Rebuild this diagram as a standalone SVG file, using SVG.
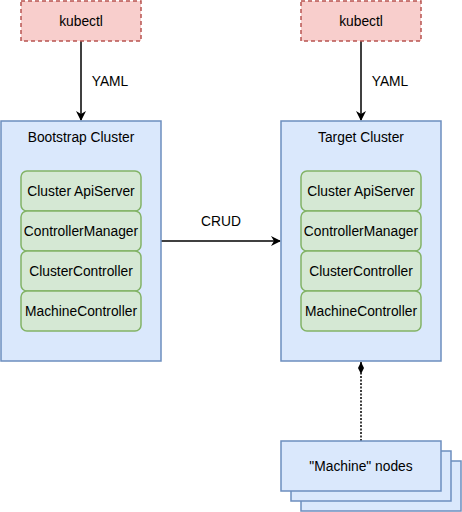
<svg xmlns="http://www.w3.org/2000/svg" width="462" height="512" viewBox="0 0 462 512">
<defs>
<style>
text{font-family:"Liberation Sans",Arial,sans-serif;font-size:13.8px;fill:#000;text-anchor:middle}
.kube{fill:#f8cecc;stroke:#b85450;stroke-width:1.5;stroke-dasharray:4 3}
.cluster{fill:#dae8fc;stroke:#6c8ebf;stroke-width:1.5}
.comp{fill:#d5e8d4;stroke:#82b366;stroke-width:1.5}
.line{stroke:#000;stroke-width:1.5;fill:none}
</style>
<marker id="arr" viewBox="0 0 10 10" refX="9" refY="5" markerWidth="10" markerHeight="10" markerUnits="userSpaceOnUse" orient="auto">
<path d="M0,0 L10,5 L0,10 L3,5 Z" fill="#000"/>
</marker>
<marker id="dia" viewBox="0 0 12 8" refX="12" refY="4" markerWidth="12" markerHeight="8" markerUnits="userSpaceOnUse" orient="auto">
<path d="M0,4 L6,1 L12,4 L6,7 Z" fill="#000"/>
</marker>
</defs>
<g id="connectors">
<path class="line" d="M81,41 V120" marker-end="url(#arr)"/>
<text x="110" y="86">YAML</text>
<path class="line" d="M361,41 V120" marker-end="url(#arr)"/>
<text x="390" y="86">YAML</text>
<path class="line" d="M161,241 H280" marker-end="url(#arr)"/>
<text x="221" y="226">CRUD</text>
<path class="line" d="M361,441 V362" stroke-dasharray="2 1.5" marker-end="url(#dia)"/>
</g>
<g id="kubectl-left"><rect class="kube" x="21" y="1" width="120" height="40"/><text x="81" y="26">kubectl</text></g>
<g id="kubectl-right"><rect class="kube" x="301" y="1" width="120" height="40"/><text x="361" y="26">kubectl</text></g>
<g id="bootstrap-cluster">
<rect class="cluster" x="1" y="121" width="160" height="240"/>
<text x="81" y="142">Bootstrap Cluster</text>
</g>
<g id="bootstrap-apiserver"><rect class="comp" x="21" y="171" width="120" height="40" rx="6"/><text x="81" y="196">Cluster ApiServer</text></g>
<g id="bootstrap-cm"><rect class="comp" x="21" y="211" width="120" height="40" rx="6"/><text x="81" y="236">ControllerManager</text></g>
<g id="bootstrap-cc"><rect class="comp" x="21" y="251" width="120" height="40" rx="6"/><text x="81" y="276">ClusterController</text></g>
<g id="bootstrap-mc"><rect class="comp" x="21" y="291" width="120" height="40" rx="6"/><text x="81" y="316">MachineController</text></g>
<g id="target-cluster">
<rect class="cluster" x="281" y="121" width="160" height="240"/>
<text x="361" y="142">Target Cluster</text>
</g>
<g id="target-apiserver"><rect class="comp" x="301" y="171" width="120" height="40" rx="6"/><text x="361" y="196">Cluster ApiServer</text></g>
<g id="target-cm"><rect class="comp" x="301" y="211" width="120" height="40" rx="6"/><text x="361" y="236">ControllerManager</text></g>
<g id="target-cc"><rect class="comp" x="301" y="251" width="120" height="40" rx="6"/><text x="361" y="276">ClusterController</text></g>
<g id="target-mc"><rect class="comp" x="301" y="291" width="120" height="40" rx="6"/><text x="361" y="316">MachineController</text></g>
<g id="machine-nodes">
<rect class="cluster" x="301" y="461" width="160" height="50"/>
<rect class="cluster" x="291" y="451" width="160" height="50"/>
<rect class="cluster" x="281" y="441" width="160" height="50"/>
<text x="361" y="471">"Machine" nodes</text>
</g>
</svg>
